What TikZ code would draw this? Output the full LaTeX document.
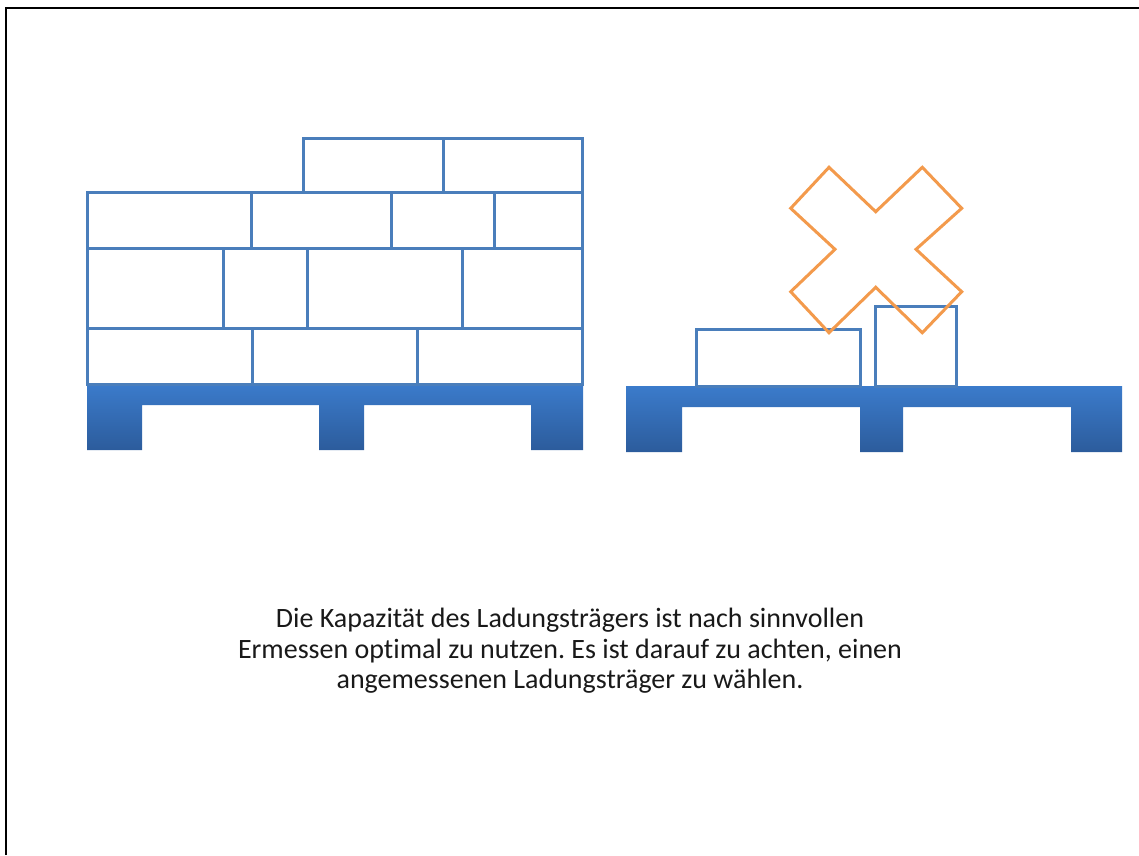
\documentclass[tikz,border=0pt]{standalone}
\usepackage{fontspec}
\setmainfont{Carlito}[Ligatures=NoCommon]
\frenchspacing

\definecolor{crateblue}{HTML}{4A7EBB}
\definecolor{pallettop}{HTML}{3B7BCB}
\definecolor{palletbot}{HTML}{2C5C9C}
\definecolor{crossorange}{HTML}{F39A4C}

\begin{document}
\begin{tikzpicture}[
  x=1pt, y=-1pt,
  crate/.style={draw=crateblue, line width=3pt, fill=white},
  pallet/.style={top color=pallettop, bottom color=palletbot},
  cross/.style={draw=crossorange, line width=3pt, line join=miter},
  frame/.style={draw=black, line width=2pt},
  caption/.style={font=\fontsize{28}{30.5}\selectfont, align=center, inner sep=0pt, text=black!90}
]
\useasboundingbox (0,0) rectangle (1139,855);
\draw[frame] (5.5,855) -- (5.5,7.5) -- (1139,7.5);

% full pallet
\shade[pallet] (87,384) -- (583,384) -- (583,450) -- (531,450) -- (531,405) -- (364,405)
  -- (364,450) -- (319,450) -- (319,405) -- (142,405) -- (142,450) -- (87,450) -- cycle;
\foreach \a/\b in {303/443, 443/582}
  \draw[crate] (\a,138) rectangle (\b,192);
\foreach \a/\b in {87/251, 251/391, 391/494, 494/582}
  \draw[crate] (\a,192) rectangle (\b,248);
\foreach \a/\b in {87/223, 223/307, 307/462, 462/582}
  \draw[crate] (\a,248) rectangle (\b,328);
\foreach \a/\b in {87/252, 252/417, 417/582}
  \draw[crate] (\a,328) rectangle (\b,384);

% nearly empty pallet
\shade[pallet] (626,386) -- (1122,386) -- (1122,452) -- (1071,452) -- (1071,407) -- (903,407)
  -- (903,452) -- (860,452) -- (860,407) -- (682,407) -- (682,452) -- (626,452) -- cycle;
\draw[crate] (696,329) rectangle (860,386);
\draw[crate] (875.5,306) rectangle (956.5,386);

\draw[cross] (829,167.3) -- (875.7,211.7) -- (922.3,167.3) -- (961.7,208.3) -- (916,249.3)
  -- (961.7,291.7) -- (922.3,332.7) -- (875.7,287.3) -- (829,332.7) -- (790.7,291.7)
  -- (835,249.3) -- (790.7,208.3) -- cycle;

\node[caption] (note) at (570,651) {Die Kapazität des Ladungsträgers ist nach sinnvollen\\
  Ermessen optimal zu nutzen. Es ist darauf zu achten, einen\\
  angemessenen Ladungsträger zu wählen.};
\end{tikzpicture}
\end{document}
